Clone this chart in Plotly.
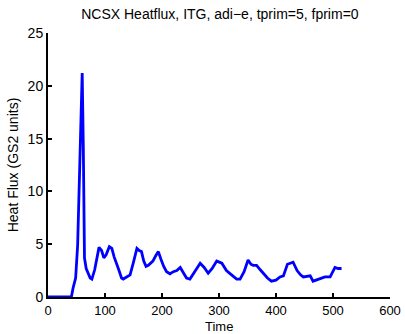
import plotly.graph_objects as go

time = [0, 20, 41, 44, 48.5, 52, 56, 60, 62, 64, 67, 71, 74, 77, 82, 89.5, 94, 98, 102, 107.6, 112, 116, 119, 124, 129, 132, 138, 144, 150, 156, 160, 164, 168, 172, 176, 180, 184, 189, 193.6, 198, 203, 208, 214, 220, 226, 232, 237, 243, 249, 255, 261, 267, 274, 281, 288, 296, 305, 313, 322, 331, 337, 344, 351, 356, 360, 366, 372, 378, 385, 392, 400, 407, 413, 420, 425, 430, 437, 443, 448, 455, 460, 465, 471, 477, 486, 495, 499, 503.5, 509, 515]
flux = [0, 0, 0, 0.85, 1.8, 4.9, 12, 21.2, 14, 3.7, 2.7, 2.1, 1.8, 1.7, 2.6, 4.7, 4.4, 3.7, 4.0, 4.76, 4.6, 3.8, 3.4, 2.6, 1.8, 1.7, 1.9, 2.1, 3.3, 4.6, 4.4, 4.3, 3.4, 2.9, 3.0, 3.2, 3.4, 3.9, 4.3, 3.6, 2.9, 2.4, 2.2, 2.4, 2.5, 2.8, 2.3, 1.8, 1.7, 2.2, 2.8, 3.2, 2.8, 2.25, 2.7, 3.4, 3.2, 2.5, 2.1, 1.7, 1.7, 2.4, 3.5, 3.1, 3.0, 3.0, 2.6, 2.2, 1.8, 1.5, 1.6, 1.9, 2.0, 3.1, 3.2, 3.3, 2.5, 2.1, 1.9, 2.0, 2.0, 1.5, 1.6, 1.7, 1.9, 1.9, 2.3, 2.8, 2.7, 2.7]

x_ticks = [0, 100, 200, 300, 400, 500, 600]
y_ticks = [0, 5, 10, 15, 20, 25]

fig = go.Figure()
fig.add_trace(go.Scatter(x=time, y=flux, mode="lines",
                         line=dict(color="rgb(0,0,255)", width=2.8, shape="linear"),
                         showlegend=False))

font = "Liberation Sans, Arial, Helvetica, sans-serif"
axis_common = dict(showline=True, linecolor="black", linewidth=2, mirror=False,
                   ticks="inside", ticklen=4, tickwidth=1.5, tickcolor="black",
                   showgrid=False, zeroline=False, automargin=False)

fig.update_layout(
    width=405, height=334,
    margin=dict(l=48, r=15, t=33, b=37),
    paper_bgcolor="white", plot_bgcolor="white",
    title=dict(text="NCSX Heatflux, ITG, adi\u2212e, tprim=5, fprim=0",
               x=0.543, xanchor="center", y=0.957, yanchor="middle",
               font=dict(family=font, size=14, color="black")),
    xaxis=dict(range=[0, 600], tickvals=x_ticks, **axis_common,
               tickfont=dict(family=font, size=13, color="black")),
    yaxis=dict(range=[0, 25], tickvals=y_ticks, **axis_common,
               tickfont=dict(family=font, size=14, color="black"),
               title=dict(text="Heat Flux (GS2 units)", standoff=6,
                          font=dict(family=font, size=14, color="black"))),
    annotations=[dict(text="Time", xref="paper", yref="paper", x=0.5, y=-0.113,
                      xanchor="center", yanchor="middle", showarrow=False,
                      borderpad=0,
                      font=dict(family=font, size=13, color="black"))],
)

fig.write_html("out.html")
